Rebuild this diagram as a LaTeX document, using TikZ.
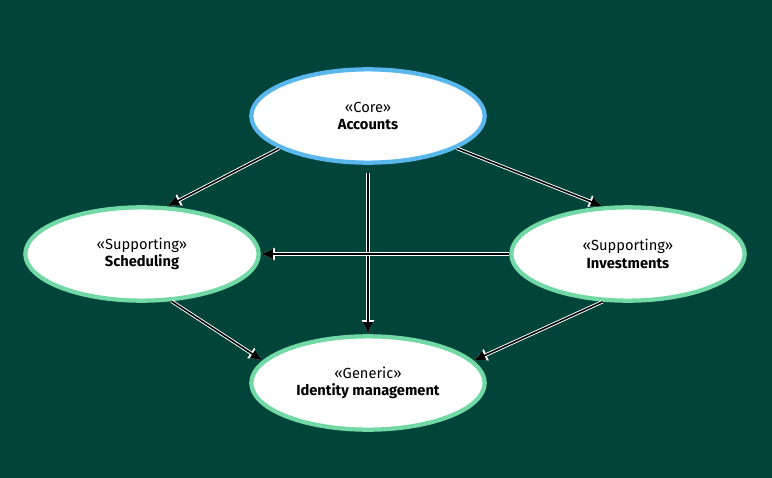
\documentclass[tikz,border=0pt]{standalone}
\usepackage{fontspec}
\setmainfont{Fira Sans}
\usetikzlibrary{positioning,arrows.meta,shapes.geometric}
\definecolor{bgcol}{HTML}{00443A}
\definecolor{coreblue}{HTML}{5AB7EC}
\definecolor{subgreen}{HTML}{72D9A6}
\tikzset{
  ctx/.style={ellipse,draw=subgreen,line width=3.2pt,fill=white,minimum width=175pt,minimum height=70pt,align=center,font=\fontsize{11}{13}\selectfont},
  core/.style={ctx,draw=coreblue},
  dep/.style={line width=1.2pt,-{Latex[length=9pt,width=8pt]},
    preaction={draw=white,line width=2.6pt,-{Latex[length=10.5pt,width=10pt]}}}
}
\begin{document}
\begin{tikzpicture}[x=0.75pt,y=-0.75pt]
\fill[bgcol] (0,0) rectangle (772,478);
\useasboundingbox (0,0) rectangle (772,478);
\node[core] (acc) at (368,116) {«Core»\\\textbf{Accounts}};
\node[ctx] (sch) at (142,254) {«Supporting»\\\textbf{Scheduling}};
\node[ctx] (inv) at (628,254) {«Supporting»\\\textbf{Investments}};
\node[ctx] (idm) at (368,383) {«Generic»\\\textbf{Identity management}};
% dependencies
\draw[dep] (acc.200) -- (sch.62);
\draw[dep] (acc.-20) -- (inv.118);
\draw[dep] ([yshift=-6pt]acc.south) -- (idm.north);
\draw[dep] (inv.west) -- (sch.east);
\draw[dep] (sch.-58) -- (idm.168);
\draw[dep] (inv.-118) -- (idm.12);
\end{tikzpicture}
\end{document}
